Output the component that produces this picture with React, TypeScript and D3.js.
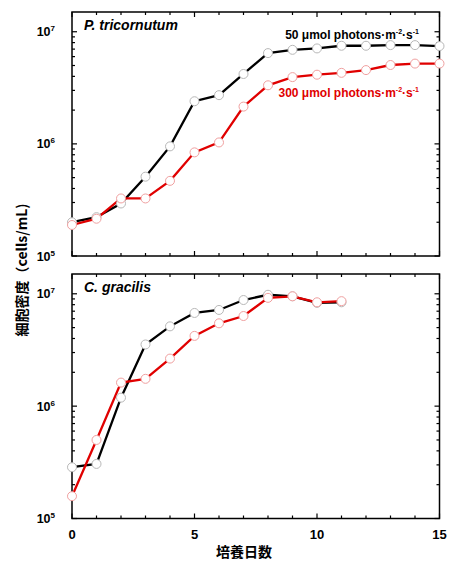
import React from 'react';
import * as d3 from 'd3';

const days = [0, 1, 2, 3, 4, 5, 6, 7, 8, 9, 10, 11, 12, 13, 14, 15];
const daysShort = [0, 1, 2, 3, 4, 5, 6, 7, 8, 9, 10, 11];

// P. tricornutum
const pt50 = [2.0e5, 2.22e5, 2.94e5, 5.1e5, 9.5e5, 2.4e6, 2.72e6, 4.2e6, 6.45e6, 6.9e6, 7.1e6, 7.5e6, 7.5e6, 7.6e6, 7.6e6, 7.45e6];
const pt300 = [1.89e5, 2.15e5, 3.26e5, 3.26e5, 4.68e5, 8.4e5, 1.03e6, 2.15e6, 3.33e6, 3.94e6, 4.14e6, 4.3e6, 4.55e6, 5.05e6, 5.2e6, 5.2e6];

// C. gracilis
const cg50 = [2.86e5, 3.06e5, 1.19e6, 3.54e6, 5.13e6, 6.75e6, 7.18e6, 8.8e6, 9.8e6, 9.5e6, 8.3e6, 8.4e6];
const cg300 = [1.58e5, 5.0e5, 1.62e6, 1.75e6, 2.65e6, 4.22e6, 5.46e6, 6.34e6, 9.2e6, 9.5e6, 8.4e6, 8.6e6];

const xTickLabels = [0, 5, 10, 15];
const yMajor = [1e5, 1e6, 1e7];
const exps = ['5', '6', '7'];

const BOLD = '"Liberation Sans", Arial, sans-serif';
const CJK = '"Noto Sans CJK JP", sans-serif';

const x = d3.scaleLinear().domain([0, 15]).range([72, 439.5]);

const minorY: number[] = [];
[1e5, 1e6].forEach(b => {
  for (let k = 2; k <= 9; k++) minorY.push(b * k);
});

function Panel({ top, bottom, title, s50, s300, xs, showLabels }: any) {
  const y = d3.scaleLog().domain([1e5, 1.5e7]).range([bottom, top]);
  const line = d3.line<number>().x((_, i) => x(xs[i])).y(d => y(d));
  const left = x.range()[0];
  const right = x.range()[1];
  const ticks: React.ReactNode[] = [];
  d3.range(0, 16).forEach(d => {
    const len = d % 5 === 0 ? 5 : 3;
    ticks.push(<line key={'b' + d} x1={x(d)} x2={x(d)} y1={bottom} y2={bottom - len} stroke="#000" strokeWidth={1.2} />);
    ticks.push(<line key={'t' + d} x1={x(d)} x2={x(d)} y1={top} y2={top + len} stroke="#000" strokeWidth={1.2} />);
  });
  yMajor.forEach((v, i) => {
    ticks.push(<line key={'ml' + i} x1={left} x2={left + 5} y1={y(v)} y2={y(v)} stroke="#000" strokeWidth={1.2} />);
    ticks.push(<line key={'mr' + i} x1={right} x2={right - 5} y1={y(v)} y2={y(v)} stroke="#000" strokeWidth={1.2} />);
  });
  minorY.forEach((v, i) => {
    ticks.push(<line key={'nl' + i} x1={left} x2={left + 3} y1={y(v)} y2={y(v)} stroke="#000" strokeWidth={1.2} />);
    ticks.push(<line key={'nr' + i} x1={right} x2={right - 3} y1={y(v)} y2={y(v)} stroke="#000" strokeWidth={1.2} />);
  });
  return (
    <g>
      <rect x={left} y={top} width={right - left} height={bottom - top} fill="none" stroke="#000" strokeWidth={1.5} />
      {ticks}
      {yMajor.map((v, i) => (
        <text key={'yl' + i} x={55} y={y(v) + 4.5} textAnchor="end" fontFamily={BOLD} fontWeight="bold" fontSize={12.5}>
          10<tspan fontSize={8} dy={-5}>{exps[i]}</tspan>
        </text>
      ))}
      {showLabels && xTickLabels.map(d => (
        <text key={'xl' + d} x={x(d)} y={bottom + 20} textAnchor="middle" fontFamily={BOLD} fontWeight="bold" fontSize={13}>{d}</text>
      ))}
      <text x={84} y={top + 18} fontFamily={BOLD} fontWeight="bold" fontStyle="italic" fontSize={14}>{title}</text>
      <path d={line(s50) || ''} fill="none" stroke="#000" strokeWidth={2.3} />
      <path d={line(s300) || ''} fill="none" stroke="#e00000" strokeWidth={2.3} />
      {s50.map((v: number, i: number) => (
        <circle key={'c50' + i} cx={x(xs[i])} cy={y(v)} r={4.5} fill="#fff" stroke="#b8b8b8" strokeWidth={1} />
      ))}
      {s300.map((v: number, i: number) => (
        <circle key={'c300' + i} cx={x(xs[i])} cy={y(v)} r={4.5} fill="#fff" stroke="#f0a0a0" strokeWidth={1} />
      ))}
    </g>
  );
}

function Legend({ xEnd, yBase, color, label }: any) {
  return (
    <text x={xEnd} y={yBase} textAnchor="end" fontFamily={BOLD} fontWeight="bold" fontSize={12} fill={color}>
      {label} μmol photons·m<tspan fontSize={7} dy={-5}>-2</tspan><tspan dy={5}>·s</tspan><tspan fontSize={7} dy={-5}>-1</tspan>
    </text>
  );
}

export default function App() {
  return (
    <svg width={449} height={561} style={{ position: 'absolute', left: 0, top: 0, background: '#fff' }}>
      <Panel top={12} bottom={256} title="P. tricornutum" s50={pt50} s300={pt300} xs={days} showLabels={false} />
      <Panel top={274} bottom={518.5} title="C. gracilis" s50={cg50} s300={cg300} xs={daysShort} showLabels={true} />
      <Legend xEnd={419} yBase={39} color="#000" label="50" />
      <Legend xEnd={419} yBase={97} color="#e00000" label="300" />
      <text transform="translate(27,270) rotate(-90)" textAnchor="middle" fontFamily={CJK} fontWeight="bold" fontSize={14}>
        細胞密度（cells/mL)
      </text>
      <text x={244} y={557} textAnchor="middle" fontFamily={CJK} fontWeight="bold" fontSize={14}>培養日数</text>
    </svg>
  );
}
